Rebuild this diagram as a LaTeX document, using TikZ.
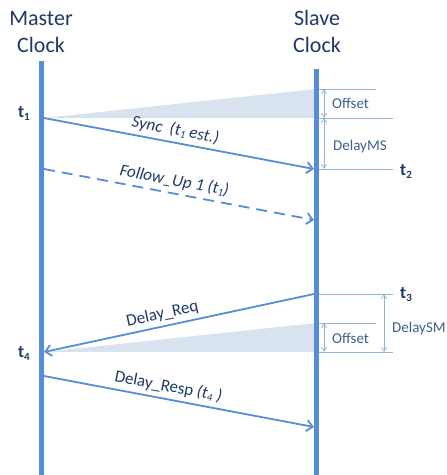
\documentclass[tikz,border=0pt]{standalone}
\usepackage{fontspec}
\setmainfont{Carlito}
\usetikzlibrary{arrows.meta}

\definecolor{clockblue}{HTML}{558ED5}
\definecolor{guideblue}{HTML}{95B3D7}
\definecolor{wedge}{HTML}{D9E2EF}
\definecolor{navy}{HTML}{1F3864}
\definecolor{spanblue}{HTML}{3F5E91}

% subscripted time stamp, e.g. t_1
\newcommand{\tstamp}[2][11]{t\raisebox{-3pt}{\fontsize{#1}{#1}\selectfont #2}}
% small subscript inside message labels
\newcommand{\msub}[1]{\raisebox{-2pt}{\fontsize{10.5}{10.5}\selectfont #1}}

\tikzset{
  clockline/.style={clockblue, line width=5pt},
  msg/.style={clockblue, line width=1.8pt, -{Straight Barb[length=6pt,width=11pt]}},
  guide/.style={guideblue, line width=0.9pt},
  span/.style={guideblue, line width=0.8pt,
    {Straight Barb[length=4pt,width=5pt]}-{Straight Barb[length=4pt,width=5pt]}},
  msglabel/.style={sloped, above=3pt, inner sep=1pt, text=navy,
    font=\fontsize{17}{20}\selectfont},
  header/.style={text=navy, font=\fontsize{22}{27}\selectfont, align=center, anchor=base},
  tlabel/.style={text=navy, font=\bfseries\fontsize{17.5}{20}\selectfont, inner sep=0pt},
  spanlabel/.style={text=spanblue, font=\fontsize{15}{17}\selectfont, anchor=west, inner sep=0pt},
}

\begin{document}
\begin{tikzpicture}[x=1pt,y=-1pt]
  \useasboundingbox (0,0) rectangle (447,475);

  % clock time lines
  \coordinate (mtop) at (41.5,61);  \coordinate (mbot) at (41.5,475);
  \coordinate (stop) at (316.5,69); \coordinate (sbot) at (316.5,475);

  % message end points
  \coordinate (syncA) at (44,118);   \coordinate (syncB) at (314,169);
  \coordinate (fupA)  at (44,169);   \coordinate (fupB)  at (314,220);
  \coordinate (reqA)  at (314,294);  \coordinate (reqB)  at (44,352);
  \coordinate (respA) at (44,376);   \coordinate (respB) at (314,427);

  % offset wedges
  \coordinate (offA) at (316,89);  \coordinate (offB) at (316,118);
  \coordinate (offC) at (316,323); \coordinate (offD) at (316,352);
  \fill[wedge] (syncA) -- (offA) -- (offB) -- cycle;
  \fill[wedge] (reqB) -- (offC) -- (offD) -- cycle;

  % headers (anchored on the baseline of the second line)
  \node[header] (master) at (41,52) {Master\\Clock};
  \node[header] (slave) at (317,52) {Slave\\Clock};

  \draw[clockline] (mtop) -- (mbot);
  \draw[clockline] (stop) -- (sbot);

  % guide lines at the slave clock
  \coordinate (g1a) at (319,89);  \coordinate (g1b) at (376,89);
  \coordinate (g2a) at (319,118); \coordinate (g2b) at (393,118);
  \coordinate (g3a) at (319,169); \coordinate (g3b) at (393,169);
  \coordinate (g4a) at (319,294); \coordinate (g4b) at (393,294);
  \coordinate (g5a) at (319,323); \coordinate (g5b) at (376,323);
  \coordinate (g6a) at (319,352); \coordinate (g6b) at (393,352);
  \draw[guide] (g1a) -- (g1b);
  \draw[guide] (g2a) -- (g2b);
  \draw[guide] (g3a) -- (g3b);
  \draw[guide] (g4a) -- (g4b);
  \draw[guide] (g5a) -- (g5b);
  \draw[guide] (g6a) -- (g6b);

  % spans
  \coordinate (sp1a) at (324,89);  \coordinate (sp1b) at (324,118);
  \coordinate (sp2a) at (324,118); \coordinate (sp2b) at (324,169);
  \coordinate (sp3a) at (324,323); \coordinate (sp3b) at (324,352);
  \coordinate (sp4a) at (384,294); \coordinate (sp4b) at (384,352);
  \draw[span] (sp1a) -- (sp1b);
  \draw[span] (sp2a) -- (sp2b);
  \draw[span] (sp3a) -- (sp3b);
  \draw[span] (sp4a) -- (sp4b);

  \node[spanlabel] (off1) at (332,103) {Offset};
  \node[spanlabel] (dms)  at (333,146) {DelayMS};
  \node[spanlabel] (off2) at (332,338) {Offset};
  \node[spanlabel] (dsm)  at (392,328) {DelaySM};

  % time stamps
  \node[tlabel, anchor=base east] (t1) at (30,117) {\tstamp{1}};
  \node[tlabel, anchor=base west] (t2) at (400,175) {\tstamp{2}};
  \node[tlabel, anchor=base west] (t3) at (400,298) {\tstamp{3}};
  \node[tlabel, anchor=base east] (t4) at (30,357) {\tstamp{4}};

  % messages
  \draw[msg] (syncA) -- node[msglabel, pos=0.478] (syncL)
    {\itshape Sync\ \ (t\msub{1} est.)} (syncB);
  \draw[msg, dash pattern=on 11pt off 7pt] (fupA) -- node[msglabel, pos=0.474] (fupL)
    {\itshape Follow\_Up 1 (t\msub{1})} (fupB);
  \draw[msg] (reqA) -- node[msglabel, pos=0.552] (reqL) {Delay\_Req} (reqB);
  \draw[msg] (respA) -- node[msglabel, pos=0.452] (respL)
    {Delay\_Resp \itshape (t\msub{4} )} (respB);
\end{tikzpicture}
\end{document}
